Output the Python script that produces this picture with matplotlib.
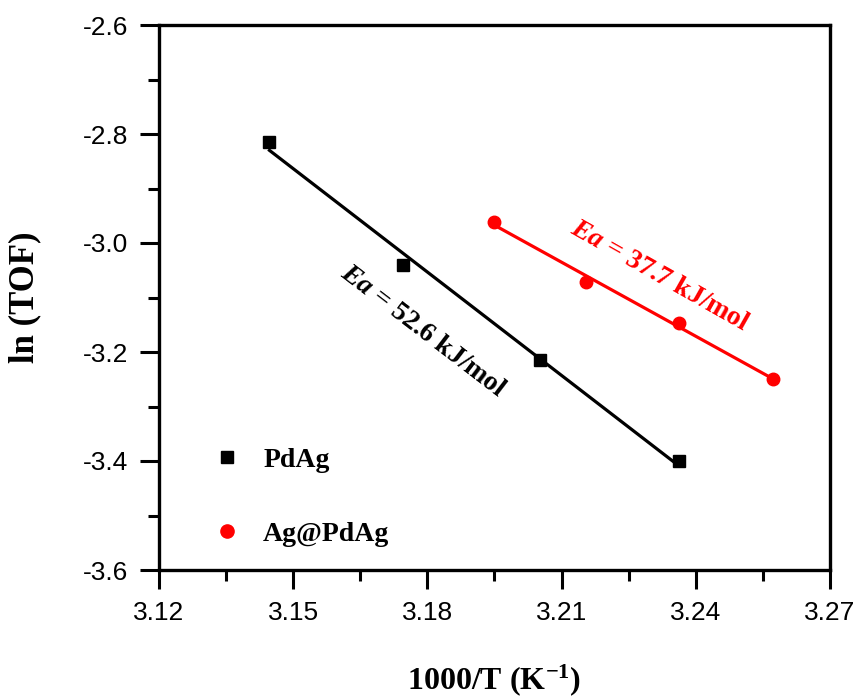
import numpy as np
import matplotlib
matplotlib.use("Agg")
import matplotlib.pyplot as plt
from matplotlib.ticker import MultipleLocator
from matplotlib.lines import Line2D

plt.rcParams["mathtext.fontset"] = "custom"
plt.rcParams["mathtext.rm"] = "Liberation Serif:bold"
plt.rcParams["mathtext.bf"] = "Liberation Serif:bold"
plt.rcParams["mathtext.it"] = "Liberation Serif:italic:bold"

# ---- data ----
pdag_x = [3.1447, 3.1746, 3.2051, 3.2362]
pdag_y = [-2.815, -3.040, -3.215, -3.400]
agpdag_x = [3.1949, 3.2154, 3.2362, 3.2573]
agpdag_y = [-2.961, -3.072, -3.147, -3.250]
series_names = ["PdAg", "Ag@PdAg"]
ea_labels = ["Ea = 52.6 kJ/mol", "Ea = 37.7 kJ/mol"]
x_ticks = [3.12, 3.15, 3.18, 3.21, 3.24, 3.27]
y_ticks = [-3.6, -3.4, -3.2, -3.0, -2.8, -2.6]

serif = ["Liberation Serif", "DejaVu Serif"]
sans = ["Liberation Sans", "DejaVu Sans"]

fig = plt.figure(figsize=(8.58, 6.99), dpi=100)
ax = fig.add_axes([159/858, 1 - 570/699, (830-159)/858, (570-25)/699])

# fits
for xs, ys, col in [(pdag_x, pdag_y, "black"), (agpdag_x, agpdag_y, "#ff0000")]:
    p = np.polyfit(xs, ys, 1)
    xx = np.array([min(xs), max(xs)])
    ax.plot(xx, np.polyval(p, xx), color=col, lw=2.3, zorder=2)

ax.plot(pdag_x, pdag_y, ls="none", marker="s", ms=8, color="black", zorder=3)
ax.plot(agpdag_x, agpdag_y, ls="none", marker="o", ms=9, color="#ff0000", zorder=3)

ax.set_xlim(3.12, 3.27)
ax.set_ylim(-3.6, -2.6)
ax.set_xticks(x_ticks)
ax.set_yticks(y_ticks)
ax.set_xticklabels([f"{v:.2f}" for v in x_ticks], fontfamily=sans, fontsize=19)
ax.set_yticklabels([f"{v:.1f}" for v in y_ticks], fontfamily=sans, fontsize=19)
ax.xaxis.set_minor_locator(MultipleLocator(0.015))
ax.yaxis.set_minor_locator(MultipleLocator(0.1))
ax.tick_params(which="major", direction="out", length=14, width=2.2, pad=8)
ax.tick_params(which="minor", direction="out", length=8, width=2.2)
ax.tick_params(axis="x", which="major", pad=8)
for s in ax.spines.values():
    s.set_linewidth(2.4)

ax.set_xlabel(r"1000/T (K$^{-1}$)", fontfamily=serif, fontweight="bold",
              fontsize=23, labelpad=27)
ax.set_ylabel("ln (TOF)", fontfamily=serif, fontweight="bold", fontsize=25, labelpad=30)

# annotations
ax.text(3.1790, -3.1615, r"$Ea$" + " = 52.6 kJ/mol", rotation=-37.5,
        rotation_mode="anchor", ha="center", va="center", fontfamily=serif,
        fontweight="bold", fontsize=20, color="black")
ax.text(3.2320, -3.0606, r"$Ea$" + " = 37.7 kJ/mol", rotation=-29.5,
        rotation_mode="anchor", ha="center", va="center", fontfamily=serif,
        fontweight="bold", fontsize=20, color="#ff0000")

handles = [Line2D([], [], ls="none", marker="s", ms=8.5, color="black"),
           Line2D([], [], ls="none", marker="o", ms=9.5, color="#ff0000")]
leg = ax.legend(handles, series_names, loc="upper left",
                bbox_to_anchor=(0.06, 0.25), frameon=False,
                prop={"family": serif, "weight": "bold", "size": 20},
                handlelength=1.0, handletextpad=0.8, labelspacing=1.75,
                borderpad=0.0)

fig.savefig("out.png", dpi=100)
